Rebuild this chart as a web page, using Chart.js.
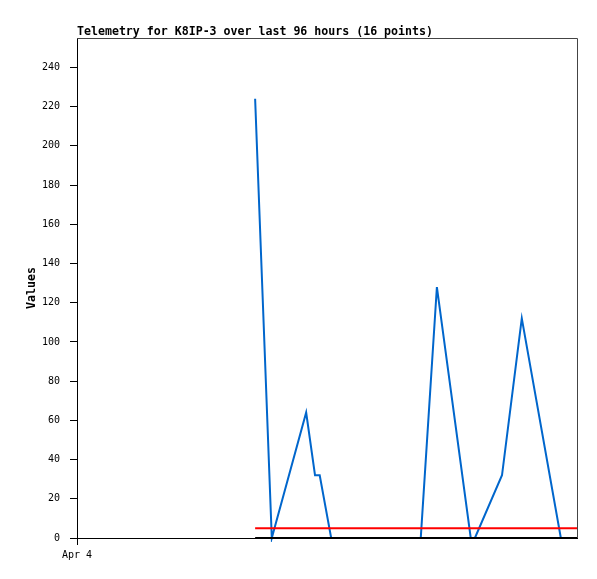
<!DOCTYPE html>
<html>
<head>
<meta charset="utf-8">
<script src="https://cdn.jsdelivr.net/npm/chart.js@4/dist/chart.umd.min.js"></script>
<style>
  body { margin: 0; background: #fff; }
  canvas { display: block; }
</style>
</head>
<body>
<canvas id="telemetry" width="597" height="579"></canvas>
<script>
// hours since start of window (Apr 4 00:00), 96 hour window
const hours = [34.2, 37.4, 44.0, 45.7, 46.6, 48.8, 66.0, 69.1, 75.6, 76.4, 81.6, 85.4, 92.9];
const values = [224, 0, 64, 32, 32, 0, 0, 128, 0, 0, 32, 112, 0];
const limitHours = [34.2, 96];
const limitValues = [5, 5];
const baseValues = [0, 0];
const xTickLabels = ['Apr 4'];
const yTicks = [0, 20, 40, 60, 80, 100, 120, 140, 160, 180, 200, 220, 240];

const monoFont = { family: 'DejaVu Sans Mono', size: 10 };

const framePlugin = {
    id: 'frame',
    afterDraw(chart) {
        const c = chart.ctx;
        const a = chart.chartArea;
        c.save();
        c.strokeStyle = '#444444';
        c.lineWidth = 1;
        c.beginPath();
        c.moveTo(a.left, a.top + 0.5);
        c.lineTo(a.right + 0.5, a.top + 0.5);
        c.lineTo(a.right + 0.5, a.bottom);
        c.stroke();
        c.fillStyle = '#000';
        c.font = 'bold 11.6px "DejaVu Sans Mono"';
        c.textAlign = 'left';
        c.textBaseline = 'alphabetic';
        c.fillText('Telemetry for K8IP-3 over last 96 hours (16 points)', a.left, 35);
        c.translate(32, (a.top + a.bottom) / 2);
        c.rotate(-Math.PI / 2);
        c.textAlign = 'center';
        c.textBaseline = 'middle';
        c.fillText('Values', 0, 0);
        c.restore();
    }
};

const ctx = document.getElementById('telemetry').getContext('2d');
const telemetry = new Chart(ctx, {
    type: 'line',
    data: {
        datasets: [{
            data: limitHours.map((h, i) => ({ x: h, y: baseValues[i] })),
            borderColor: '#000000',
            borderWidth: 2,
            pointRadius: 0,
            clip: 4,
            order: 0
        }, {
            data: limitHours.map((h, i) => ({ x: h, y: limitValues[i] })),
            borderColor: '#ff0000',
            borderWidth: 2,
            pointRadius: 0,
            clip: 4,
            order: 1
        }, {
            data: hours.map((h, i) => ({ x: h, y: values[i] })),
            borderColor: '#0066cc',
            borderWidth: 2,
            pointRadius: 0,
            tension: 0,
            clip: 4,
            order: 2
        }]
    },
    options: {
        responsive: false,
        animation: false,
        devicePixelRatio: 1,
        layout: { padding: { top: 38, right: 20, left: 0, bottom: 0 } },
        plugins: {
            legend: { display: false },
            tooltip: { enabled: false }
        },
        scales: {
            x: {
                type: 'linear',
                min: 0,
                max: 96,
                afterBuildTicks: scale => { scale.ticks = [{ value: 0 }]; },
                afterFit: scale => { scale.height = 41; },
                ticks: {
                    color: '#000',
                    font: monoFont,
                    padding: 4,
                    maxRotation: 0,
                    callback: (v, i) => xTickLabels[i]
                },
                grid: { drawOnChartArea: false, tickLength: 7, color: '#000' },
                border: { color: '#000', width: 1 }
            },
            y: {
                min: 0,
                max: 255,
                afterBuildTicks: scale => { scale.ticks = yTicks.map(v => ({ value: v })); },
                afterFit: scale => { scale.width = 77; },
                ticks: {
                    color: '#000',
                    font: monoFont,
                    padding: 10
                },
                grid: { drawOnChartArea: false, tickLength: 7, color: '#000' },
                border: { color: '#000', width: 1 }
            }
        }
    },
    plugins: [framePlugin]
});
</script>
</body>
</html>
